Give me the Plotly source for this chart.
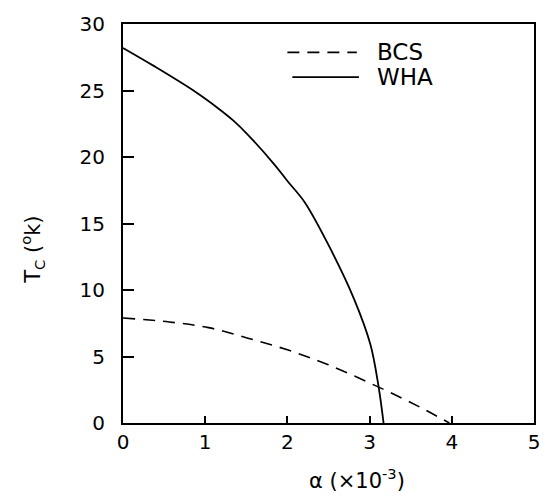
import plotly.graph_objects as go

# Data
wha_x = [0, 0.374, 0.857, 1.16, 1.34, 1.52, 1.84, 2.0, 2.21, 2.49, 2.81, 3.01, 3.11, 3.17]
wha_y = [28.2, 26.85, 25.0, 23.65, 22.75, 21.67, 19.45, 18.2, 16.6, 13.5, 9.34, 5.9, 2.7, 0]
bcs_x = [0, 0.56, 1.04, 1.52, 2.0, 2.49, 3.13, 3.61, 3.97]
bcs_y = [7.9, 7.6, 7.17, 6.38, 5.5, 4.4, 2.64, 1.2, 0]
x_ticks = [0, 1, 2, 3, 4, 5]
y_ticks = [0, 5, 10, 15, 20, 25, 30]

FONT = "DejaVu Sans"

fig = go.Figure()
fig.add_trace(go.Scatter(x=bcs_x, y=bcs_y, mode="lines", name="BCS",
                         line=dict(color="black", width=1.6, dash="12px,8px", shape="spline"),
                         showlegend=False))
fig.add_trace(go.Scatter(x=wha_x, y=wha_y, mode="lines", name="WHA",
                         line=dict(color="black", width=1.8, shape="spline", smoothing=1),
                         showlegend=False))

axis_common = dict(showline=True, linecolor="black", linewidth=2, mirror=True,
                   showgrid=False, zeroline=False, ticks="inside", tickcolor="black",
                   tickwidth=1.6, tickfont=dict(family=FONT, size=20, color="black"))

fig.update_xaxes(range=[0, 5], tickvals=x_ticks, ticklen=7, **axis_common)
fig.update_yaxes(range=[0, 30], tickvals=y_ticks, ticklen=11, ticklabelstandoff=12, **axis_common)

# Legend (drawn manually to match long legend lines)
fig.add_shape(type="line", xref="paper", yref="paper", x0=0.40, x1=0.569, y0=0.929, y1=0.929,
              line=dict(color="black", width=1.6, dash="12px,8px"))
fig.add_shape(type="line", xref="paper", yref="paper", x0=0.412, x1=0.574, y0=0.867, y1=0.867,
              line=dict(color="black", width=1.8))
fig.add_annotation(xref="paper", yref="paper", x=0.612, y=0.929, text="BCS", showarrow=False,
                   xanchor="left", yanchor="middle", font=dict(family=FONT, size=23, color="black"))
fig.add_annotation(xref="paper", yref="paper", x=0.612, y=0.867, text="WHA", showarrow=False,
                   xanchor="left", yanchor="middle", font=dict(family=FONT, size=23, color="black"))

# Axis titles
fig.add_annotation(xref="paper", yref="paper", x=-0.22, y=0.433,
                   text="T<sub>C</sub> (<sup>o</sup>k)", textangle=-90, showarrow=False,
                   xanchor="center", yanchor="middle", font=dict(family=FONT, size=21, color="black"))
fig.add_annotation(xref="paper", yref="paper", x=0.569, y=-0.14,
                   text="α (×10<sup>-3</sup>)", showarrow=False,
                   xanchor="center", yanchor="middle", font=dict(family=FONT, size=21, color="black"))

fig.update_layout(width=552, height=501, margin=dict(l=123, r=16, t=17, b=78),
                  plot_bgcolor="white", paper_bgcolor="white")

fig.write_html("out.html", config={"displayModeBar": False},
               post_script="document.body.style.margin='0';document.body.style.overflow='hidden';")
